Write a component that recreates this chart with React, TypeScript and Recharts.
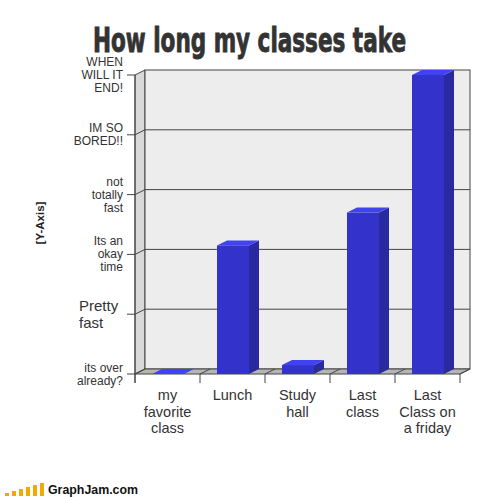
import { BarChart, Bar, XAxis, YAxis, ReferenceArea } from "recharts";

/* 类别与数值 */
const classes = ["my\nfavorite\nclass", "Lunch", "Study\nhall", "Last\nclass", "Last\nClass on\na friday"];
const lengths = [0, 2.15, 0.15, 2.7, 5];

/* Y 轴刻度 */
const yTicks = [0, 1, 2, 3, 4, 5];
const yTickLabels = [
  "its over\nalready?",
  "Pretty\nfast",
  "Its an\nokay\ntime",
  "not\ntotally\nfast",
  "IM SO\nBORED!!",
  "WHEN\nWILL IT\nEND!",
];

const data = classes.map((name, i) => ({ name, length: lengths[i] }));

// 3D depth offset
const DX = 10;
const DY = 5;
const LINE = "#444";
const TEXT = "#333";
const FONT = "'Liberation Sans', Arial, sans-serif";

/* 背景房间：左墙、后墙、地板、网格线 */
function Room(props: any) {
  const { x, y, width: w, height: h } = props;
  const n = classes.length;
  const max = yTicks[yTicks.length - 1];
  const bottom = y + h;
  return (
    <g>
      <polygon
        points={`${x},${y} ${x + DX},${y - DY} ${x + DX},${bottom - DY} ${x},${bottom}`}
        fill="#d9d9d9"
        stroke={LINE}
      />
      <rect x={x + DX} y={y - DY} width={w} height={h} fill="#ededed" stroke={LINE} />
      {yTicks.slice(1, -1).map((v) => {
        const ty = y + h * (1 - v / max);
        return (
          <g key={v}>
            <line x1={x} y1={ty} x2={x + DX} y2={ty - DY} stroke={LINE} />
            <line x1={x + DX} y1={ty - DY} x2={x + w + DX} y2={ty - DY} stroke={LINE} />
          </g>
        );
      })}
      <polygon
        points={`${x},${bottom} ${x + DX},${bottom - DY} ${x + w + DX},${bottom - DY} ${x + w},${bottom}`}
        fill="#b5b5b5"
        stroke={LINE}
      />
      {Array.from({ length: n + 1 }).map((_, i) => {
        const bx = x + (w * i) / n;
        return (
          <g key={i}>
            <line x1={bx} y1={bottom} x2={bx + DX} y2={bottom - DY} stroke={LINE} />
            <line x1={bx} y1={bottom} x2={bx} y2={bottom + 9} stroke={LINE} />
          </g>
        );
      })}
      <line x1={x} y1={y} x2={x} y2={bottom + 9} stroke={LINE} />
    </g>
  );
}

/* 立体柱 */
function Bar3D(props: any) {
  const { x, y, width: w, height: h } = props;
  return (
    <g>
      <polygon
        points={`${x + w},${y} ${x + w + DX},${y - DY} ${x + w + DX},${y + h - DY} ${x + w},${y + h}`}
        fill="#2a2aa0"
      />
      <polygon
        points={`${x},${y} ${x + DX},${y - DY} ${x + w + DX},${y - DY} ${x + w},${y}`}
        fill="#4242f5"
      />
      {h > 0 && <rect x={x} y={y} width={w} height={h} fill="#3333cc" />}
    </g>
  );
}

function YTick(props: any) {
  const { x, y, payload } = props;
  const idx = yTicks.indexOf(payload.value);
  const lines = (yTickLabels[idx] || "").split("\n");
  const big = idx === 1;
  const lh = big ? 17 : 13;
  const tx = big ? x - 44 : x;
  return (
    <g>
      <line x1={x + 4} y1={y} x2={x + 12} y2={y} stroke={LINE} />
      <text x={tx} y={y} textAnchor={big ? "start" : "end"} fill={TEXT} fontSize={big ? 15 : 12} fontFamily={FONT}>
        {lines.map((l, i) => (
          <tspan key={i} x={tx} y={y + (i - (lines.length - 1) / 2) * lh} dominantBaseline="central">
            {l}
          </tspan>
        ))}
      </text>
    </g>
  );
}

function XTick(props: any) {
  const { x, y, payload } = props;
  const lines = String(payload.value).split("\n");
  return (
    <text x={x} y={y} textAnchor="middle" fill={TEXT} fontSize={14.5} fontFamily={FONT}>
      {lines.map((l, i) => (
        <tspan key={i} x={x} y={y + 13 + i * 16.5} dominantBaseline="central">
          {l}
        </tspan>
      ))}
    </text>
  );
}

const logoBars = [3, 5, 7, 9, 11, 13];

export default function App() {
  return (
    <div style={{ position: "absolute", left: 0, top: 0, width: 504, height: 497, background: "#fff" }}>
      <BarChart
        width={504}
        height={497}
        data={data}
        margin={{ top: 75, right: 44, bottom: 0, left: 0 }}
        style={{ position: "absolute", left: 0, top: 0 }}
      >
        <ReferenceArea y1={0} y2={5} shape={(p: any) => <Room {...p} />} />
        <XAxis dataKey="name" height={123} interval={0} axisLine={false} tickLine={false} tick={<XTick />} />
        <YAxis
          type="number"
          domain={[0, 5]}
          ticks={yTicks}
          interval={0}
          width={135}
          axisLine={false}
          tickLine={false}
          tickSize={8}
          tickMargin={4}
          tick={<YTick />}
        />
        <Bar dataKey="length" barSize={32} shape={(p: any) => <Bar3D {...p} />} isAnimationActive={false} />
      </BarChart>
      <svg width={504} height={72} style={{ position: "absolute", left: 0, top: 0, pointerEvents: "none" }}>
        <g transform="translate(249.5 52) scale(1 1.27)">
          <text
            x={0}
            y={0}
            textAnchor="middle"
            fill="#333"
            stroke="#333"
            strokeWidth={0.7}
            fontSize={26}
            fontWeight="bold"
            fontFamily="'Liberation Sans Narrow', 'DejaVu Sans Condensed', sans-serif"
            textLength={313}
            lengthAdjust="spacingAndGlyphs"
          >
            How long my classes take
          </text>
        </g>
      </svg>
      <svg width={30} height={120} style={{ position: "absolute", left: 26, top: 165 }}>
        <text
          x={14}
          y={58}
          transform="rotate(-90 14 58)"
          textAnchor="middle"
          dominantBaseline="central"
          fill="#222"
          fontSize={11.5}
          fontWeight="bold"
          fontFamily={FONT}
        >
          [Y-Axis]
        </text>
      </svg>
      <svg width={160} height={27} style={{ position: "absolute", left: 0, top: 470 }}>
        {logoBars.map((hgt, i) => (
          <rect key={i} x={5 + i * 7} y={26 - hgt} width={4} height={hgt} fill="#f5a800" />
        ))}
        <text x={48} y={24} fill="#111" fontSize={12.5} fontWeight="bold" fontFamily={FONT} textLength={90} lengthAdjust="spacingAndGlyphs">
          GraphJam.com
        </text>
      </svg>
    </div>
  );
}
